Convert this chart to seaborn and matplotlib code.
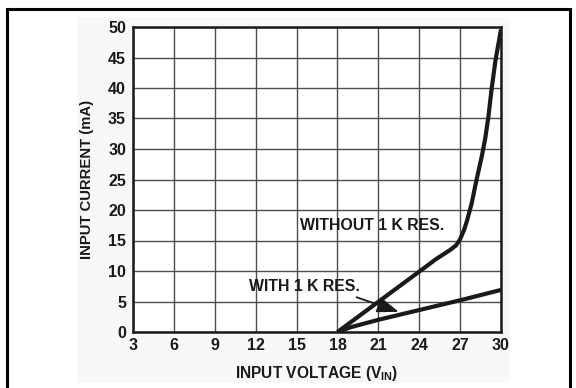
import matplotlib
matplotlib.use("Agg")
import matplotlib.pyplot as plt
from matplotlib.patches import Rectangle
import seaborn as sns
import pandas as pd

# ---- data ----
without_x = [18.0, 21.0, 24.0, 25.2, 26.3, 26.7, 27.0, 27.3, 27.5, 27.85, 28.2, 28.6, 28.85, 29.07, 29.32, 29.6, 30.0]
without_y = [0.0, 4.95, 9.9, 11.9, 13.5, 14.2, 15.2, 16.8, 18.2, 21.1, 24.9, 28.9, 31.8, 35.2, 40.0, 44.6, 49.6]
with_x = [18.0, 19.0, 21.0, 24.0, 27.0, 30.0]
with_y = [0.0, 0.8, 2.0, 3.6, 5.2, 6.9]
series_names = ["WITHOUT 1 K RES.", "WITH 1 K RES."]
x_ticks = [3, 6, 9, 12, 15, 18, 21, 24, 27, 30]
y_ticks = [0, 5, 10, 15, 20, 25, 30, 35, 40, 45, 50]
x_label = r"INPUT VOLTAGE (V$_{\mathbf{IN}}$)"
y_label = "INPUT CURRENT (mA)"

df = pd.concat([
    pd.DataFrame({"v": without_x, "i": without_y, "s": series_names[0]}),
    pd.DataFrame({"v": with_x, "i": with_y, "s": series_names[1]}),
])

sns.set_theme(style="white")
plt.rcParams["font.family"] = ["Liberation Sans", "DejaVu Sans"]
plt.rcParams["font.weight"] = "bold"
plt.rcParams["mathtext.fontset"] = "custom"
plt.rcParams["mathtext.rm"] = "Liberation Sans:bold"
plt.rcParams["mathtext.bf"] = "Liberation Sans:bold"

fig = plt.figure(figsize=(5.76, 3.88), dpi=100)
fig.patch.set_facecolor("white")
# faint gray backdrop of the pasted chart
fig.patches.append(Rectangle((77 / 576, 1 - 383 / 388), (510 - 77) / 576, (383 - 17) / 388,
                             transform=fig.transFigure, facecolor="#f8f8f8", edgecolor="none", zorder=0))
# outer frame (bottom edge off-page)
fig.patches.append(Rectangle((7 / 576, -0.05), (570 - 7) / 576, 1 - 9 / 388 + 0.05,
                             transform=fig.transFigure, facecolor="none", edgecolor="black",
                             linewidth=2.2, zorder=1))

ax = fig.add_axes([133 / 576, 1 - 332 / 388, (501 - 133) / 576, (332 - 27) / 388])
ax.set_zorder(5)
ax.set_facecolor("white")

sns.lineplot(data=df, x="v", y="i", hue="s", palette=["#1a1a1a", "#1a1a1a"],
             linewidth=3, legend=False, sort=False, ax=ax, zorder=3)
for ln in ax.get_lines():
    ln.set_solid_joinstyle("round")
    ln.set_solid_capstyle("butt")

ax.set_xlim(3, 30)
ax.set_ylim(0, 50)
ax.set_xticks(x_ticks)
ax.set_yticks(y_ticks)
ax.set_xticklabels([str(t) for t in x_ticks], fontsize=11.5, fontweight="bold")
ax.set_yticklabels([str(t) for t in y_ticks], fontsize=11.5, fontweight="bold")
ax.tick_params(axis="both", length=0, colors="#1a1a1a")
ax.tick_params(axis="y", pad=5)
ax.tick_params(axis="x", pad=4)

ax.grid(True, color="#4d4d4d", linewidth=1.0)
ax.set_axisbelow(True)
for sp in ax.spines.values():
    sp.set_visible(True)
    sp.set_color("#1a1a1a")
    sp.set_linewidth(1.8)

ax.set_xlabel(x_label, fontsize=11.2, fontweight="bold", color="#1a1a1a")
ax.set_ylabel(y_label, fontsize=10.7, fontweight="bold", color="#1a1a1a")
ax.xaxis.set_label_coords(0.5, -0.105)
ax.yaxis.set_label_coords(-0.105, 0.5)

ax.text(15.25, 17.5, series_names[0], fontsize=11.4, fontweight="bold", color="#1a1a1a",
        ha="left", va="center", zorder=4)
ax.text(11.5, 7.4, series_names[1], fontsize=11.4, fontweight="bold", color="#1a1a1a",
        ha="left", va="center", zorder=4)
ax.annotate("", xy=(22.5, 3.3), xytext=(19.4, 5.7),
            arrowprops=dict(arrowstyle="-|>,head_length=1.1,head_width=0.4",
                            color="#1a1a1a", lw=1.3, shrinkA=0, shrinkB=0), zorder=4)

fig.savefig("out.png", dpi=100)
